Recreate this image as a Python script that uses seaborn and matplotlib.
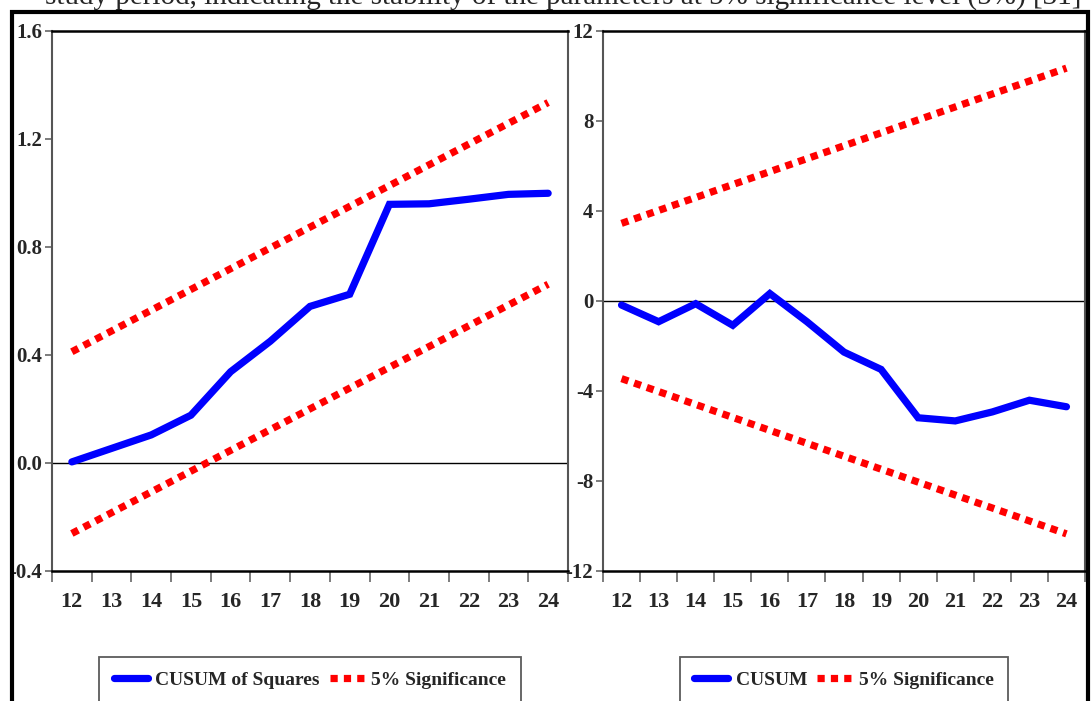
import numpy as np
import pandas as pd
import matplotlib
matplotlib.use('Agg')
import matplotlib.pyplot as plt
import seaborn as sns
from matplotlib.lines import Line2D
from matplotlib.patches import Rectangle

# data
periods = [12, 13, 14, 15, 16, 17, 18, 19, 20, 21, 22, 23, 24]
cusum_sq = [0.004, 0.054, 0.104, 0.177, 0.338, 0.451, 0.580, 0.625,
            0.958, 0.960, 0.977, 0.995, 0.999]
cusum = [-0.18, -0.92, -0.12, -1.08, 0.33, -0.92, -2.27, -3.04,
         -5.19, -5.33, -4.93, -4.41, -4.70]

# 5% bands are straight lines: values at first and last period
band_x = [12, 24]
sq_upper = [0.412, 1.335]
sq_lower = [-0.261, 0.662]
cu_upper = [3.45, 10.35]
cu_lower = [-3.45, -10.35]

left_yticks = [-0.4, 0.0, 0.4, 0.8, 1.2, 1.6]
right_yticks = [-12, -8, -4, 0, 4, 8, 12]

sns.set_style('white')
plt.rcParams['font.family'] = ['Liberation Serif', 'DejaVu Serif']
plt.rcParams['font.weight'] = 'bold'

W, H = 1092, 701
fig = plt.figure(figsize=(W / 100, H / 100), dpi=100)

ax1 = fig.add_axes([52 / W, 1 - 571 / H, 516 / W, 540 / H])
ax2 = fig.add_axes([603 / W, 1 - 571 / H, 482 / W, 540 / H])

blue = '#0000ff'
red = '#ff0000'
dots = (1.0, 0.85)


def draw_panel(ax, values, upper, lower, ylim, yticks, fmt, label):
    df = pd.DataFrame({'t': periods, 'v': values})
    bands = pd.DataFrame({'t': band_x, 'up': upper, 'lo': lower})
    ax.axhline(0, color='black', lw=1.0, zorder=1)
    sns.lineplot(data=df, x='t', y='v', ax=ax, color=blue, lw=5.2,
                 solid_joinstyle='miter', zorder=3)
    for col in ['up', 'lo']:
        sns.lineplot(data=bands, x='t', y=col, ax=ax, color=red, lw=5.2,
                     dashes=False, zorder=2)
        ax.lines[-1].set_dashes(dots)
        ax.lines[-1].set_dash_capstyle('butt')
    ax.set_xlim(11.5, 24.5)
    ax.set_ylim(*ylim)
    ax.set_xticks(periods)
    ax.set_xticks(np.arange(11.5, 25, 1.0), minor=True)
    ax.set_yticks(yticks)
    ax.set_yticklabels([fmt.format(v) for v in yticks])
    ax.tick_params(axis='x', which='major', length=0, pad=15, labelsize=16)
    ax.tick_params(axis='x', which='minor', length=8, width=1.2,
                   color='#666666', direction='out', bottom=True)
    ax.tick_params(axis='y', which='major', length=5, width=1.2,
                   color='#666666', direction='out', left=True, pad=2,
                   labelsize=15)
    ax.set_xlabel('')
    ax.set_ylabel('')
    for side in ['left', 'right']:
        ax.spines[side].set_color('#555555')
        ax.spines[side].set_linewidth(1.5)
    for side in ['top', 'bottom']:
        ax.spines[side].set_color('black')
        ax.spines[side].set_linewidth(1.8)

    handles = [Line2D([], [], color=blue, lw=5.2),
               Line2D([], [], color=red, lw=5.2, dashes=dots,
                      dash_capstyle='butt')]
    pos = ax.get_position()
    cx = (pos.x0 + pos.x1) / 2
    leg = ax.legend(handles, [label, '5% Significance'], loc='upper center',
                    bbox_to_anchor=(cx, 1 - 657 / H),
                    bbox_transform=fig.transFigure, ncol=2, frameon=True,
                    fancybox=False, edgecolor='#333333', fontsize=14,
                    handlelength=1.75, handletextpad=0.4, columnspacing=0.5,
                    borderpad=0.75, borderaxespad=0)
    leg.get_frame().set_linewidth(1.3)


draw_panel(ax1, cusum_sq, sq_upper, sq_lower, (-0.4, 1.6), left_yticks,
           '{:.1f}', 'CUSUM of Squares')
draw_panel(ax2, cusum, cu_upper, cu_lower, (-12, 12), right_yticks,
           '{:d}', 'CUSUM')

# outer frame of the figure and the clipped line of text above it
fig.patches.append(Rectangle((12 / W, -0.05), 1076 / W, 1.05 - 12 / H,
                             transform=fig.transFigure, fill=False,
                             edgecolor='black', lw=3, zorder=10))
fig.text(45 / W, 1 - 5 / H,
         'study period, indicating the stability of the parameters at 5% '
         'significance level (5%) [31]',
         fontsize=21, fontweight='normal', va='baseline', ha='left')

fig.savefig('out.png', dpi=100)
